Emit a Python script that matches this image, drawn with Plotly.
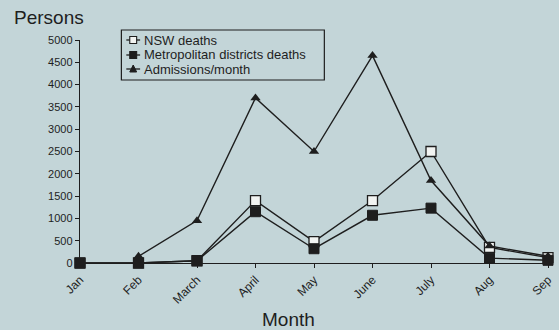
import plotly.graph_objects as go

months = ["Jan", "Feb", "March", "April", "May", "June", "July", "Aug", "Sep"]
nsw_deaths = [0, 0, 50, 1400, 480, 1400, 2500, 350, 120]
metro_deaths = [0, 0, 50, 1150, 320, 1070, 1230, 110, 60]
adm_months = ["Feb", "March", "April", "May", "June", "July", "Aug", "Sep"]
admissions = [150, 950, 3700, 2500, 4650, 1850, 380, 150]
y_ticks = list(range(0, 5001, 500))
series_names = ["NSW deaths", "Metropolitan districts deaths", "Admissions/month"]

bg = "#c3d5d8"
ink = "#1e1e1e"
W, H = 559, 330
L, R, T, B = 80, 4, 40, 67
PW, PH = W - L - R, H - T - B


def px(x):
    return (x - L) / PW


def py(y):
    return (H - B - y) / PH


fig = go.Figure()
fig.add_trace(go.Scatter(
    x=months, y=nsw_deaths, name=series_names[0], mode="lines+markers",
    line=dict(color=ink, width=1.4),
    marker=dict(symbol="square", size=10, color="#f2f4f2", line=dict(color=ink, width=1.3)),
    cliponaxis=False,
))
fig.add_trace(go.Scatter(
    x=months, y=metro_deaths, name=series_names[1], mode="lines+markers",
    line=dict(color=ink, width=1.4),
    marker=dict(symbol="square", size=10, color=ink, line=dict(color=ink, width=1)),
    cliponaxis=False,
))
fig.add_trace(go.Scatter(
    x=adm_months, y=admissions, name=series_names[2], mode="lines+markers",
    line=dict(color=ink, width=1.4),
    marker=dict(symbol="triangle-up", size=9, color=ink),
    cliponaxis=False,
))

# Compact boxed key in the upper-left of the plot area
shapes = [dict(type="rect", xref="paper", yref="paper",
               x0=px(122), x1=px(328), y0=py(80), y1=py(30),
               line=dict(color=ink, width=1.2), fillcolor=bg, layer="above")]
annotations = []
row_y = [40, 55, 69]
for i, (name, ry) in enumerate(zip(series_names, row_y)):
    shapes.append(dict(type="line", xref="paper", yref="paper",
                       x0=px(127), x1=px(141), y0=py(ry), y1=py(ry),
                       line=dict(color=ink, width=1.3), layer="above"))
    if i < 2:
        shapes.append(dict(type="rect", xref="paper", yref="paper",
                           x0=px(130.5), x1=px(137.5), y0=py(ry + 3.5), y1=py(ry - 3.5),
                           line=dict(color=ink, width=1.1),
                           fillcolor="#f2f4f2" if i == 0 else ink, layer="above"))
    else:
        shapes.append(dict(type="path", xref="paper", yref="paper",
                           path=f"M {px(130.5)},{py(ry + 3)} L {px(137.5)},{py(ry + 3)} L {px(134)},{py(ry - 4)} Z",
                           line=dict(color=ink, width=1), fillcolor=ink, layer="above"))
    annotations.append(dict(text=name, xref="paper", yref="paper", x=px(143), y=py(ry),
                            xanchor="left", yanchor="middle", showarrow=False,
                            font=dict(size=13, family="Liberation Sans Narrow, Arial Narrow, Arial", color=ink)))

annotations.append(dict(
    text="Persons", xref="paper", yref="paper", x=px(11), y=py(18),
    xanchor="left", yanchor="middle", showarrow=False,
    font=dict(size=19, family="Liberation Sans, Arial", color=ink),
))
annotations.append(dict(
    text="Month", xref="paper", yref="paper", x=px(292), y=py(319),
    xanchor="center", yanchor="middle", showarrow=False,
    font=dict(size=19, family="Liberation Sans, Arial", color=ink),
))

fig.update_layout(
    width=W, height=H,
    margin=dict(l=L, r=R, t=T, b=B),
    paper_bgcolor=bg, plot_bgcolor=bg,
    font=dict(family="Liberation Sans Narrow, Arial Narrow, Liberation Sans, Arial", color=ink, size=11),
    showlegend=False,
    xaxis=dict(
        type="category", categoryorder="array", categoryarray=months,
        range=[0, 8], tickangle=-45, showgrid=False, zeroline=False,
        showline=True, linecolor=ink, linewidth=1.4,
        ticks="outside", ticklen=4, tickcolor=ink,
        tickfont=dict(size=12),
    ),
    yaxis=dict(
        range=[0, 5000], tickvals=y_ticks, showgrid=False, zeroline=False,
        showline=True, linecolor=ink, linewidth=1.4,
        ticks="outside", ticklen=4, tickcolor=ink,
        tickfont=dict(size=11),
    ),
    shapes=shapes,
    annotations=annotations,
)

fig.write_html("out.html")
